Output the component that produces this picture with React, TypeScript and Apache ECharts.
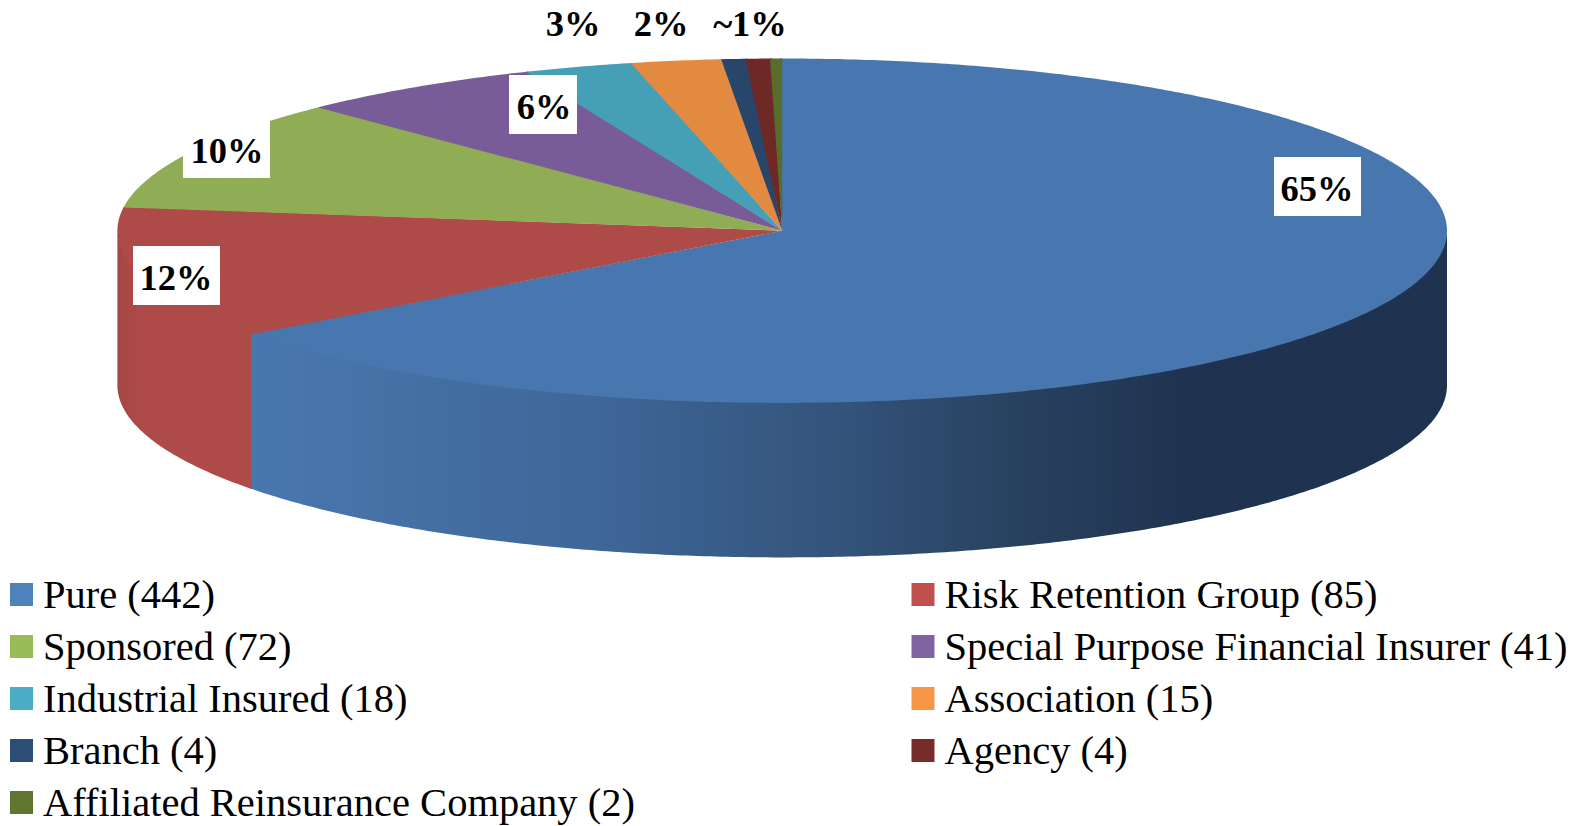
import React, { useEffect, useRef } from "react";
import * as echarts from "echarts";

const categories = ["Pure", "Risk Retention Group", "Sponsored", "Special Purpose Financial Insurer", "Industrial Insured", "Association", "Branch", "Agency", "Affiliated Reinsurance Company"];
const values = [442, 85, 72, 41, 18, 15, 4, 4, 2];
const percentLabels = ["65%", "12%", "10%", "6%", "3%", "2%", "~1%"];

const legendColors = ["#4F81BD", "#C0504D", "#9BBB59", "#8064A2", "#4BACC6", "#F79646", "#2C4D75", "#772C2A", "#5F7530"];
const topColors = ["#4877AF", "#AE4A47", "#90AC54", "#785C97", "#459FB7", "#E38A41", "#28466C", "#6E2927", "#586C2C"];

const CX = 782.2, CY = 230.7, RX = 664.8, RY = 172.2, DEPTH = 154.5;
const FONT = '"Liberation Serif", serif';

// label boxes: [left, top, width, height] with text centre; null box = no background
const labelBoxes: ([number, number, number, number] | null)[] = [
  [1274, 157, 87, 59], [133, 246, 87, 59], [183, 119, 87, 59], [509, 75, 68, 59], null, null, null,
];
const labelCentres = [[1317, 188], [176, 277], [227, 150], [544, 106], [573, 23.5], [661, 23.5], [750, 23.5]];

const total = values.reduce((a, b) => a + b, 0);
const starts: number[] = [];
values.reduce((acc, v, i) => { starts[i] = acc; return acc + v; }, 0);

function pt(deg: number, dy = 0): number[] {
  const t = (deg * Math.PI) / 180;
  return [CX + RX * Math.sin(t), CY - RY * Math.cos(t) + dy];
}
function arc(a0: number, a1: number, dy = 0): number[][] {
  const n = Math.max(2, Math.ceil(Math.abs(a1 - a0) * 2));
  const out: number[][] = [];
  for (let i = 0; i <= n; i++) out.push(pt(a0 + ((a1 - a0) * i) / n, dy));
  return out;
}

function sideFill(i: number): any {
  if (i === 0) {
    return {
      type: "linear", global: true, x: 250, y: 0, x2: 1190, y2: 0,
      colorStops: [
        { offset: 0, color: "#4877AF" },
        { offset: 0.1, color: "#4673A9" },
        { offset: 0.36, color: "#3F6799" },
        { offset: 0.63, color: "#33537A" },
        { offset: 0.82, color: "#28415F" },
        { offset: 1, color: "#1F3350" },
      ],
    };
  }
  return {
    type: "linear", global: true, x: 117, y: 0, x2: 140, y2: 0,
    colorStops: [{ offset: 0, color: "#A64643" }, { offset: 1, color: "#AE4A47" }],
  };
}

const OVERLAP = 0.2; // degrees each wedge slides under its neighbour, hides hairline seams

function makeRender(i: number) {
  return (_p: any, api: any) => {
    const v = api.value(0) as number;
    const a0 = (starts[i] / total) * 360;
    const a1 = a0 + (v / total) * 360;
    const children: any[] = [];
    const s0 = Math.max(a0, 90), s1 = Math.min(a1 + OVERLAP, 270);
    if (s1 > s0) {
      const top = arc(s0, s1, -2);
      const bottom = arc(s1, s0, DEPTH);
      children.push({ type: "polygon", shape: { points: [...top, ...bottom] }, style: { fill: sideFill(i) } });
    }
    const t0 = i === 0 ? a0 - OVERLAP : a0;
    const t1 = i === values.length - 1 ? a1 : a1 + OVERLAP;
    children.push({ type: "polygon", shape: { points: [[CX, CY], ...arc(t0, t1)] }, style: { fill: topColors[i] } });
    return { type: "group", children };
  };
}

const legendName = (i: number) => `${categories[i]} (${values[i]})`;
const leftIdx = [0, 2, 4, 6, 8];
const rightIdx = [1, 3, 5, 7];

export default function App() {
  const ref = useRef<HTMLDivElement>(null);
  useEffect(() => {
    document.body.style.margin = "0";
    const chart = echarts.init(ref.current!, undefined, { renderer: "svg" });
    const legendBase = {
      orient: "vertical", icon: "rect", itemWidth: 23, itemHeight: 23, itemGap: 11, top: 574, height: 252, padding: 0,
      selectedMode: false,
      textStyle: { fontFamily: FONT, fontSize: 40.5, color: "#000", lineHeight: 40, padding: [0, 0, 0, 5] },
    };
    const graphics: any[] = [];
    percentLabels.forEach((t, i) => {
      const b = labelBoxes[i];
      if (b) graphics.push({ type: "rect", shape: { x: b[0], y: b[1], width: b[2], height: b[3] }, style: { fill: "#fff" }, z: 10 });
      graphics.push({
        type: "text", z: 11,
        style: {
          text: t, x: labelCentres[i][0], y: labelCentres[i][1], textAlign: "center", textVerticalAlign: "middle",
          fill: "#000", font: `bold 36.5px ${FONT}`,
        },
      });
    });
    chart.setOption({
      animation: false,
      backgroundColor: "#fff",
      tooltip: { show: false },
      legend: [
        { ...legendBase, left: 10, data: leftIdx.map(legendName) },
        { ...legendBase, left: 911.5, data: rightIdx.map(legendName) },
      ],
      series: values.map((v, i) => ({
        type: "custom",
        name: legendName(i),
        coordinateSystem: "none",
        itemStyle: { color: legendColors[i] },
        silent: true,
        data: [[v]],
        renderItem: makeRender(i),
      })),
      graphic: graphics,
    });
    return () => chart.dispose();
  }, []);
  return <div ref={ref} style={{ width: 1579, height: 826, background: "#fff" }} />;
}
